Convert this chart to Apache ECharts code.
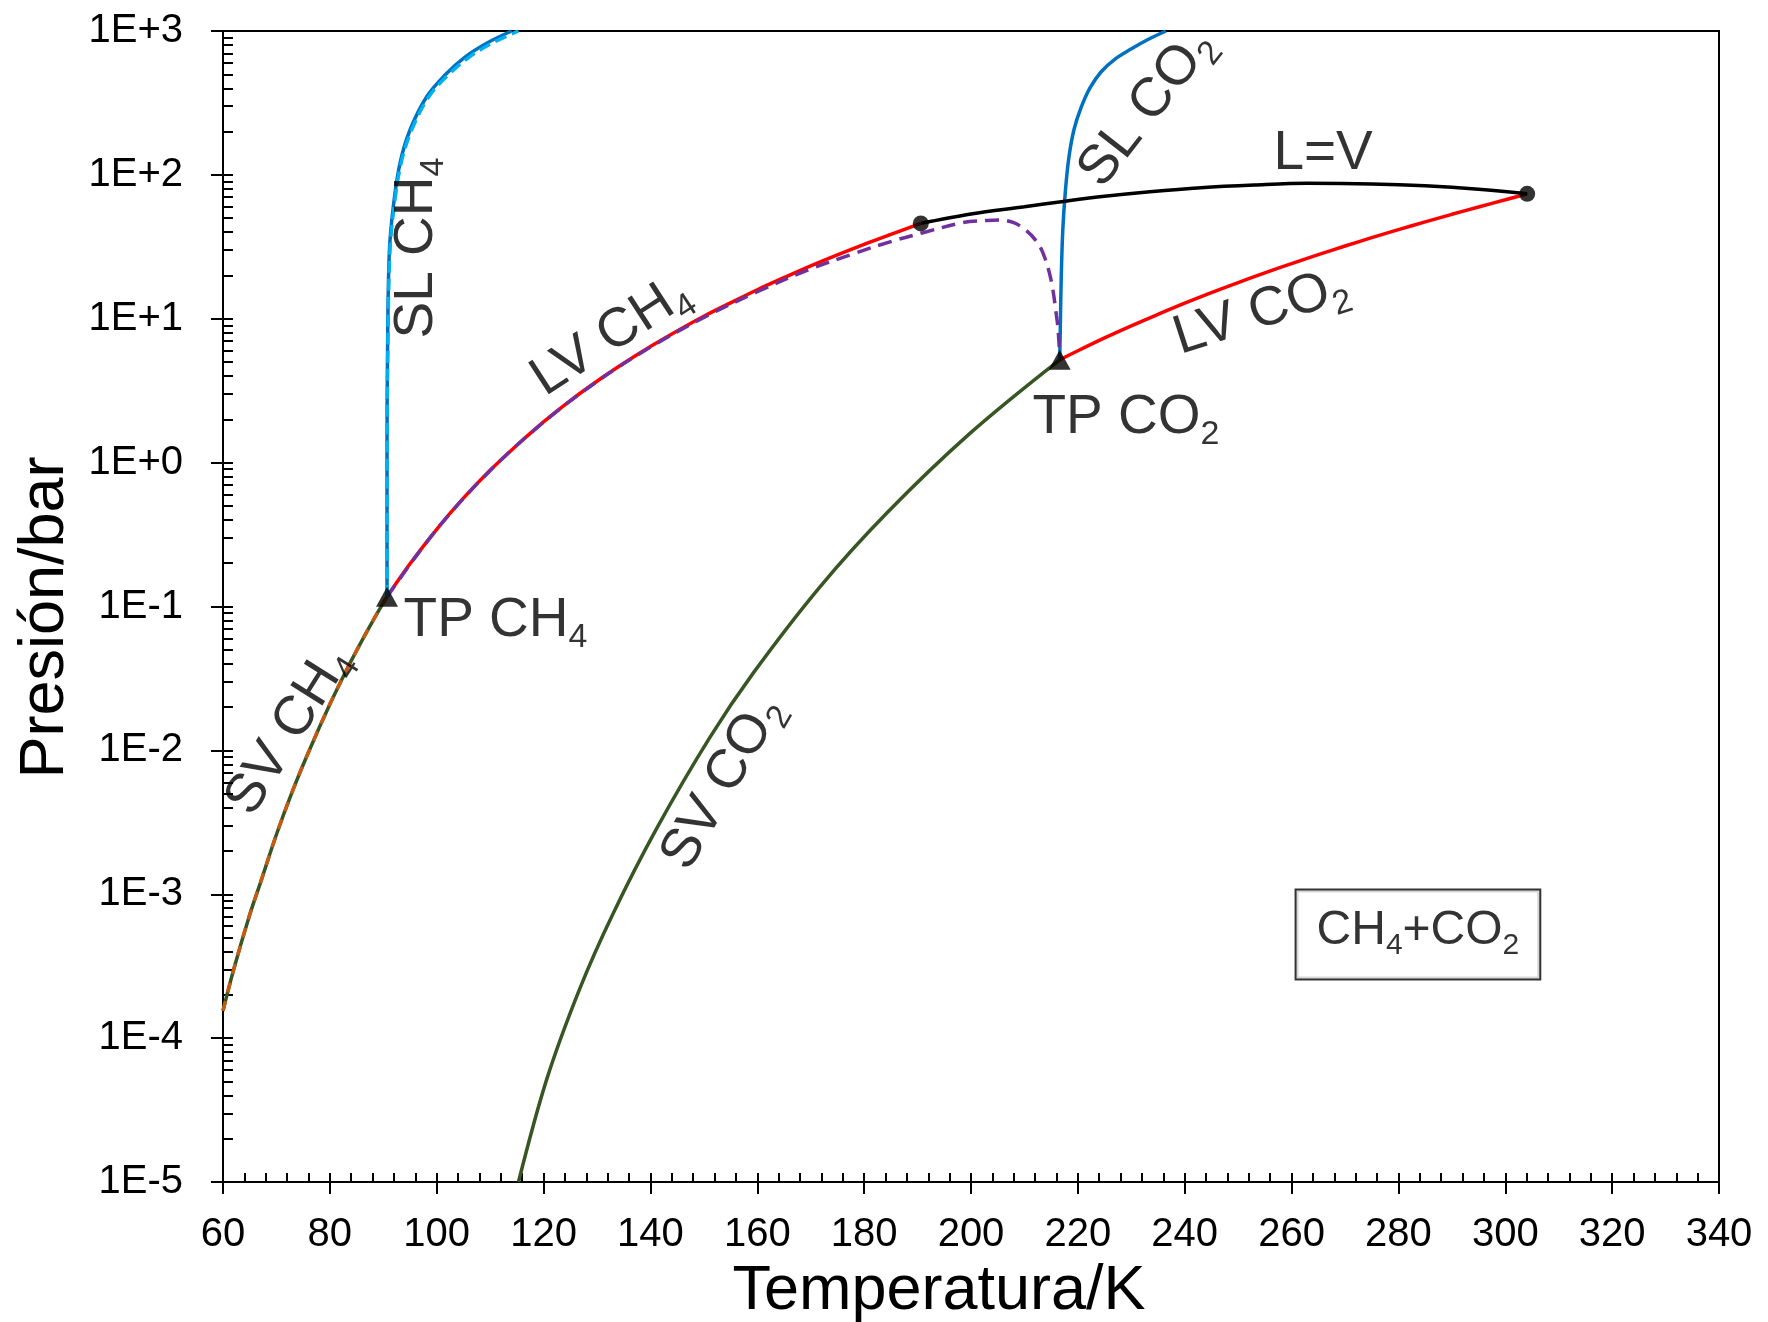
<!DOCTYPE html>
<html>
<head>
<meta charset="utf-8">
<script src="https://cdn.jsdelivr.net/npm/echarts@6/dist/echarts.min.js"></script>
<style>
html,body{margin:0;padding:0;background:#fff;}
#c{width:1768px;height:1322px;}
</style>
</head>
<body>
<div id="c"></div>
<script>
// ---------------- data ----------------
const yTickValues = [1e-5, 1e-4, 1e-3, 1e-2, 1e-1, 1e0, 1e1, 1e2, 1e3];
const yTickLabels = ['1E-5', '1E-4', '1E-3', '1E-2', '1E-1', '1E+0', '1E+1', '1E+2', '1E+3'];

// SV CH4 (solid green + dashed orange)
const svCH4_T = [60, 62, 65, 67, 70, 73, 76, 80, 83, 85, 88, 90.7];
const svCH4_P = [1.55e-4, 3.0e-4, 7.2e-4, 1.2e-3, 2.6e-3, 5.2e-3, 9.7e-3, 0.0209, 0.0355, 0.0494, 0.0789, 0.117];

// LV CH4 (red)
const lvCH4_T = [90.7, 95, 100, 105, 110, 115, 120, 125, 130, 135, 140, 145, 150, 155, 160, 165, 170, 175, 180, 185, 190.6];
const lvCH4_P = [0.117, 0.198, 0.344, 0.566, 0.884, 1.32, 1.92, 2.70, 3.68, 4.90, 6.41, 8.22, 10.4, 12.9, 15.9, 19.3, 23.3, 27.8, 32.9, 38.6, 46.0];

// three-phase line (purple dashed)
const slv_T = [90.7, 100, 110, 120, 130, 140, 150, 160, 170, 178, 185, 191, 198.5, 203, 205.5, 208, 210, 212, 213.5, 215, 216.0, 216.3, 216.6];
const slv_P = [0.117, 0.344, 0.88, 1.91, 3.66, 6.35, 10.2, 15.4, 22.2, 28.3, 34.4, 39.6, 46.6, 48.2, 48.6, 46.5, 42, 35.5, 28.5, 18.5, 10.5, 8.4, 5.6];

// SL CH4 (blue solid + light-blue dashed)
const slCH4_T = [90.7, 90.7, 90.8, 91.12, 91.87, 93.13, 95.0, 98.12, 101.55, 105.29, 109.6, 114.03];
const slCH4_P = [0.117, 1.22, 6.07, 28.5, 60.1, 120.5, 205, 349, 494, 659, 832, 1000];
const slCH4b_T = [90.7, 90.7, 90.85, 91.22, 92.02, 93.33, 95.3, 98.52, 102.15, 106.09, 110.6, 115.3];
const slCH4b_P = [0.117, 1.22, 6.07, 28.5, 60.1, 120.5, 205, 349, 494, 659, 832, 1000];

// SV CO2 (dark green)
const svCO2_T = [115.3, 120.6, 126.8, 133.0, 141.2, 151.1, 159.3, 171.7, 184.2, 199.8, 216.6];
const svCO2_P = [1e-5, 5.19e-5, 2.22e-4, 7.33e-4, 2.88e-3, 0.01227, 0.0347, 0.1365, 0.4446, 1.596, 5.18];

// LV CO2 (red)
const lvCO2_T = [216.6, 220, 225, 230, 235, 240, 245, 250, 255, 260, 265, 270, 275, 280, 285, 290, 295, 300, 304.1];
const lvCO2_P = [5.18, 5.99, 7.36, 8.93, 10.73, 12.83, 15.2, 17.85, 20.85, 24.19, 27.89, 32.03, 36.59, 41.6, 47.1, 53.2, 59.8, 67.1, 73.8];

// SL CO2 (blue)
const slCO2_T = [216.6, 216.71, 216.88, 217.18, 217.68, 218.34, 219.27, 220.58, 222.27, 224.33, 226.96, 229.95, 233.13, 236.49];
const slCO2_P = [5.18, 8.36, 18.6, 41.4, 78.5, 133.6, 206, 292, 402, 519, 638, 750, 873, 1000];

// L=V critical line (black)
const crit_T = [190.6, 200, 210, 218, 225, 233.5, 243, 253, 263, 275, 285, 295, 304.1];
const crit_P = [46.0, 53.5, 60, 65.9, 71, 76.4, 81.5, 85, 87.3, 86.5, 84, 79.5, 73.8];

// triple points and critical points
const tp_T = [90.7, 216.6];
const tp_P = [0.117, 5.18];
const cp_T = [190.6, 304.1];
const cp_P = [46.0, 73.8];

// ---------------- chart ----------------
const FONT = "'Liberation Sans', Arial, Helvetica, sans-serif";
const pairs = (T, P) => T.map((t, i) => [t, P[i]]);
function rich(size) {
  const sub = Math.round(size * 0.62);
  return {
    n: { fontSize: size, fontFamily: FONT, color: '#000' },
    s: { fontSize: sub, fontFamily: FONT, color: '#000', padding: [sub, 0, 0, 0] }
  };
}
function line(data, color, width, type, z) {
  return {
    type: 'line', data: data, symbol: 'none', smooth: 0.35, silent: true,
    lineStyle: { color: color, width: width, type: type },
    z: z, animation: false
  };
}

// annotation texts, anchored at data coordinates
const notes = [
  { text: '{n|SL CH}{s|4}', T: 96.3, P: 31.0, rot: 90 },
  { text: '{n|LV CH}{s|4}', T: 132.6, P: 7.59, rot: 33 },
  { text: '{n|SV CH}{s|4}', T: 72.3, P: 0.0137, rot: 58 },
  { text: '{n|TP CH}{s|4}', T: 111.0, P: 0.0794, rot: 0 },
  { text: '{n|TP CO}{s|2}', T: 229.0, P: 2.05, rot: 0 },
  { text: '{n|SV CO}{s|2}', T: 153.5, P: 5.94e-3, rot: 60 },
  { text: '{n|LV CO}{s|2}', T: 254.3, P: 11.14, rot: 18 },
  { text: '{n|SL CO}{s|2}', T: 232.9, P: 291.7, rot: 52 },
  { text: '{n|L=V}', T: 265.9, P: 139.6, rot: 0 }
];
const labelData = notes.map(n => ({
  value: [n.T, n.P],
  label: { show: true, formatter: n.text, rotate: n.rot, rich: rich(55) }
}));
labelData.push({
  value: [283.65, 5.26e-4],
  label: {
    show: true, formatter: '{n|CH}{s|4}{n|+CO}{s|2}', rich: rich(48),
    borderColor: '#000', borderWidth: 2, padding: [10, 20, 18, 20], backgroundColor: '#fff'
  }
});

const yMinor = [];
for (let k = -5; k < 3; k++) {
  for (let m = 1; m <= 9; m++) yMinor.push(m * Math.pow(10, k));
}
yMinor.push(1000);

const option = {
  animation: false,
  backgroundColor: '#fff',
  grid: {
    left: 223, right: 49, top: 31, bottom: 140, outerBoundsMode: 'none', containLabel: false,
    show: true, borderColor: '#000', borderWidth: 2, backgroundColor: 'transparent'
  },
  xAxis: [
    {
      type: 'value', min: 60, max: 340, interval: 20, position: 'bottom',
      axisLine: { show: true, onZero: false, lineStyle: { color: '#000', width: 2 } },
      axisTick: { show: true, inside: false, length: 12, lineStyle: { color: '#000', width: 2 } },
      axisLabel: { fontSize: 40, color: '#000', fontFamily: FONT, margin: 33 },
      splitLine: { show: false },
      name: 'Temperatura/K', nameLocation: 'middle', nameGap: 71,
      nameTextStyle: { fontSize: 63, color: '#000', fontFamily: FONT, padding: [0, 64, 0, 0] }
    },
    {
      type: 'value', min: 60, max: 340, interval: 4, position: 'bottom',
      axisLine: { show: false, onZero: false },
      axisTick: { show: true, inside: true, length: 9, lineStyle: { color: '#000', width: 2 } },
      axisLabel: { show: false }, splitLine: { show: false }
    }
  ],
  yAxis: [
    {
      type: 'log', logBase: 10, min: 1e-5, max: 1e3, position: 'left',
      axisLine: { show: true, onZero: false, lineStyle: { color: '#000', width: 2 } },
      axisTick: { show: true, inside: false, length: 12, lineStyle: { color: '#000', width: 2 }, customValues: yTickValues },
      axisLabel: {
        fontSize: 40, color: '#000', fontFamily: FONT, margin: 40, customValues: yTickValues,
        formatter: v => yTickLabels[Math.round(Math.log10(v)) + 5]
      },
      splitLine: { show: false },
      name: 'Presión/bar', nameLocation: 'middle', nameGap: 145,
      nameTextStyle: { fontSize: 63, color: '#000', fontFamily: FONT, padding: [0, 22, 0, 0] }
    },
    {
      type: 'log', logBase: 10, min: 1e-5, max: 1e3, position: 'left',
      axisLine: { show: false, onZero: false },
      axisTick: { show: true, inside: true, length: 10, lineStyle: { color: '#000', width: 2 }, customValues: yMinor },
      axisLabel: { show: false }, splitLine: { show: false }
    }
  ],
  series: [
    line(pairs(svCH4_T, svCH4_P), '#375623', 3.5, 'solid', 2),
    line(pairs(svCH4_T, svCH4_P), '#C55A11', 3.5, [10, 9], 3),
    line(pairs(svCO2_T, svCO2_P), '#375623', 3.5, 'solid', 2),
    line(pairs(lvCH4_T, lvCH4_P), '#FF0000', 3.5, 'solid', 2),
    line(pairs(slv_T, slv_P), '#7030A0', 3.5, [14, 8], 3),
    line(pairs(slCH4_T, slCH4_P), '#0070C0', 3.5, 'solid', 2),
    line(pairs(slCH4b_T, slCH4b_P), '#00B0F0', 3.5, [12, 6], 3),
    line(pairs(slCO2_T, slCO2_P), '#0070C0', 3.5, 'solid', 2),
    line(pairs(lvCO2_T, lvCO2_P), '#FF0000', 3.5, 'solid', 2),
    line(pairs(crit_T, crit_P), '#000000', 3.5, 'solid', 2),
    {
      type: 'scatter', data: pairs(tp_T, tp_P), symbol: 'triangle', symbolSize: [22, 20],
      itemStyle: { color: '#000' }, z: 10, silent: true
    },
    {
      type: 'scatter', data: pairs(cp_T, cp_P), symbol: 'circle', symbolSize: 16,
      itemStyle: { color: '#000' }, z: 10, silent: true
    },
    {
      type: 'scatter', data: labelData, symbolSize: 1, silent: true, z: 20,
      itemStyle: { color: 'rgba(0,0,0,0)' },
      label: { show: true, position: 'inside', align: 'center', verticalAlign: 'middle' }
    }
  ]
};

const chart = echarts.init(document.getElementById('c'), null, { renderer: 'canvas' });
chart.setOption(option);
</script>
</body>
</html>
